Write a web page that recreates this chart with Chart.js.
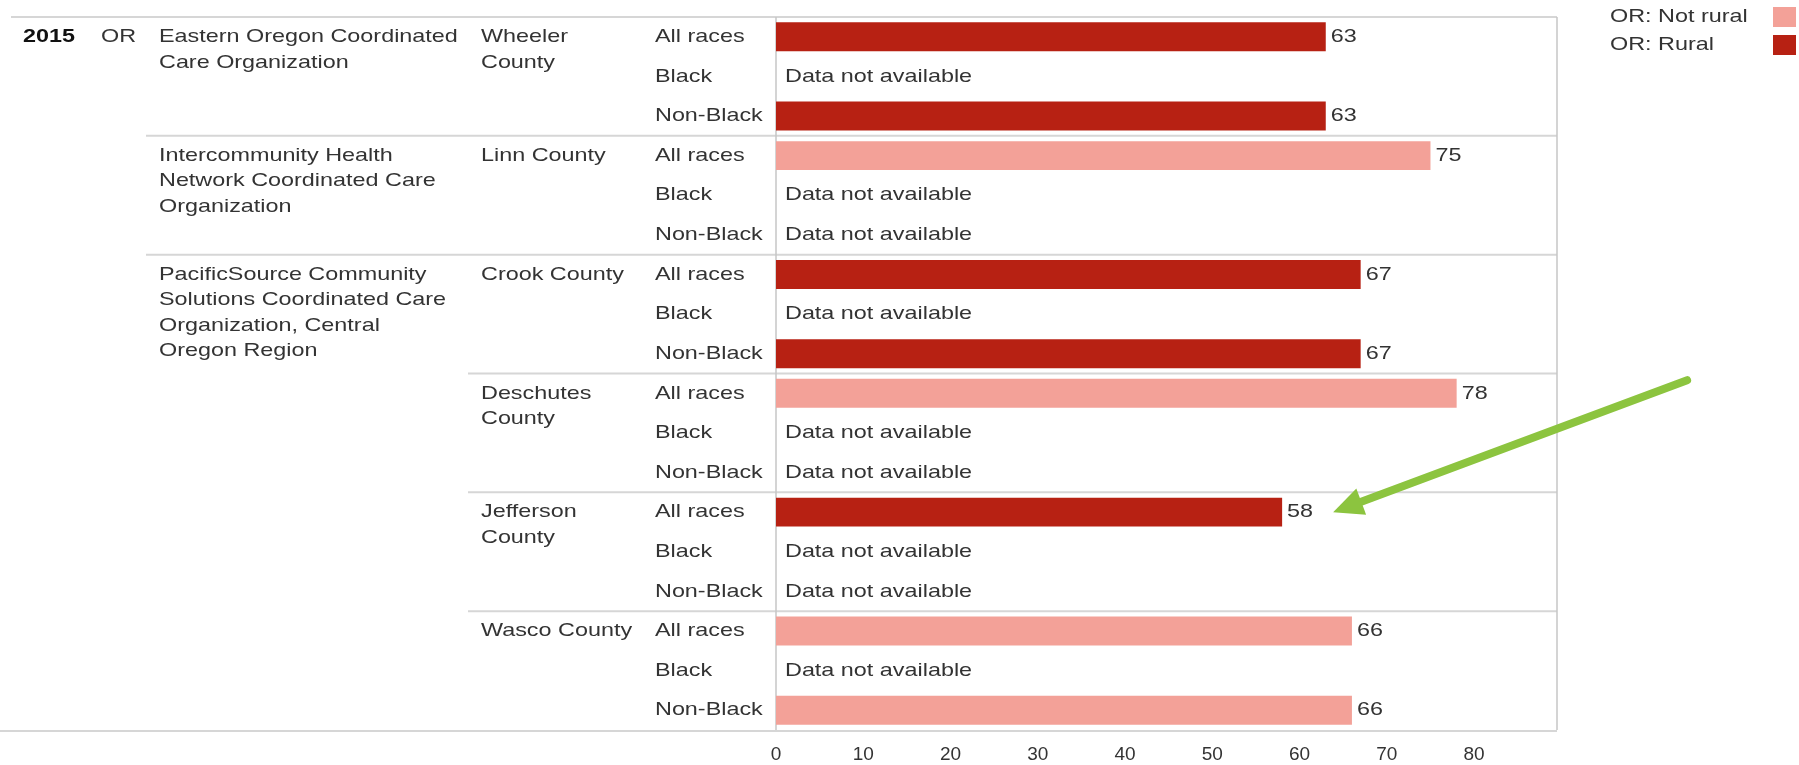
<!DOCTYPE html>
<html>
<head>
<meta charset="utf-8">
<title>Oregon CCO rates by county and race, 2015</title>
<script src="https://cdn.jsdelivr.net/npm/chart.js@4.4.1/dist/chart.umd.min.js"></script>
<style>
  html, body { margin: 0; padding: 0; background: #fff; }
  #wrap { width: 1799px; height: 765px; }
</style>
</head>
<body>
<div id="wrap"><canvas id="chart" width="1799" height="765"></canvas></div>
<script>
// ---- data ----
const year = '2015';
const state = 'OR';
const organizations = [
    ['Eastern Oregon Coordinated', 'Care Organization'],
    ['Intercommunity Health', 'Network Coordinated Care', 'Organization'],
    ['PacificSource Community', 'Solutions Coordinated Care', 'Organization, Central', 'Oregon Region']
];
const countiesPerOrg = [1, 1, 4];
const counties = [
    ['Wheeler', 'County'],
    ['Linn County'],
    ['Crook County'],
    ['Deschutes', 'County'],
    ['Jefferson', 'County'],
    ['Wasco County']
];
const races = ['All races', 'Black', 'Non-Black'];
const countyRural = [true, false, true, false, true, false];
// one row per county, one value per race (null = data not available)
const values = [
    [63, null, 63],
    [75, null, null],
    [67, null, 67],
    [78, null, null],
    [58, null, null],
    [66, null, 66]
];
const legendLabels = ['OR: Not rural', 'OR: Rural'];
const xTickValues = [0, 10, 20, 30, 40, 50, 60, 70, 80];
const highlight = { county: 4, race: 0 }; // the bar the green arrow points at

// ---- look ----
const FONT = '"Liberation Sans", Arial, sans-serif';
const TEXT_SIZE = 19;
const STRETCH = 1.23;
const TEXT_COLOR = '#333333';
const LINE_COLOR = '#d6d6d6';
const AXIS_COLOR = '#c6c6c6';
const RURAL = '#b72113';
const NOT_RURAL = '#f3a198';
const ARROW = '#8cc43f';

const rowLabels = [];
const notRuralData = [];
const ruralData = [];
counties.forEach((county, c) => {
    races.forEach((race, r) => {
        rowLabels.push(county.join(' ') + ' | ' + race);
        const v = values[c][r];
        ruralData.push(countyRural[c] ? v : null);
        notRuralData.push(countyRural[c] ? null : v);
    });
});

function drawText(ctx, text, x, y, opts = {}) {
    ctx.save();
    ctx.font = (opts.bold ? 'bold ' : '') + (opts.size || TEXT_SIZE) + 'px ' + FONT;
    ctx.fillStyle = opts.color || TEXT_COLOR;
    ctx.textBaseline = 'middle';
    ctx.textAlign = 'left';
    ctx.translate(x, y);
    ctx.scale(STRETCH, 1);
    ctx.fillText(text, 0, 0);
    ctx.restore();
}

function hLine(ctx, x1, x2, y, color, width) {
    ctx.save();
    ctx.strokeStyle = color;
    ctx.lineWidth = width;
    ctx.beginPath();
    ctx.moveTo(x1, y);
    ctx.lineTo(x2, y);
    ctx.stroke();
    ctx.restore();
}

function vLine(ctx, x, y1, y2, color, width) {
    ctx.save();
    ctx.strokeStyle = color;
    ctx.lineWidth = width;
    ctx.beginPath();
    ctx.moveTo(x, y1);
    ctx.lineTo(x, y2);
    ctx.stroke();
    ctx.restore();
}

const tablePlugin = {
    id: 'tableText',
    beforeDatasetsDraw(chart) {
        const { ctx, chartArea: area, scales: { x, y } } = chart;
        const edgeBefore = i => (y.getPixelForValue(i - 1) + y.getPixelForValue(i)) / 2;

        hLine(ctx, 11, area.right, area.top, LINE_COLOR, 2);

        // county / organization separators
        const orgStarts = new Set();
        let acc = 0;
        countiesPerOrg.forEach(n => { orgStarts.add(acc); acc += n; });
        for (let c = 1; c < counties.length; c++) {
            const yy = edgeBefore(c * races.length);
            hLine(ctx, orgStarts.has(c) ? 146 : 468, area.right, yy, LINE_COLOR, 2);
        }
        hLine(ctx, 0, area.right, area.bottom + 1, LINE_COLOR, 2);

        vLine(ctx, x.getPixelForValue(0), area.top, area.bottom, AXIS_COLOR, 1.5);
        vLine(ctx, area.right, area.top, area.bottom, AXIS_COLOR, 1.5);
    },
    afterDraw(chart) {
        const { ctx, scales: { x, y } } = chart;
        const lineGap = 25.5;

        drawText(ctx, year, 23, y.getPixelForValue(0), { bold: true, color: '#111' });
        drawText(ctx, state, 101, y.getPixelForValue(0));

        let countyIdx = 0;
        organizations.forEach((lines, o) => {
            const top = y.getPixelForValue(countyIdx * races.length);
            lines.forEach((line, k) => drawText(ctx, line, 159, top + k * lineGap));
            countyIdx += countiesPerOrg[o];
        });

        counties.forEach((lines, c) => {
            const top = y.getPixelForValue(c * races.length);
            lines.forEach((line, k) => drawText(ctx, line, 481, top + k * lineGap));
            races.forEach((race, r) => {
                const row = c * races.length + r;
                const cy = y.getPixelForValue(row);
                drawText(ctx, race, 655, cy);
                const v = values[c][r];
                if (v === null) {
                    drawText(ctx, 'Data not available', x.getPixelForValue(0) + 9, cy);
                } else {
                    drawText(ctx, String(v), x.getPixelForValue(v) + 5, cy);
                }
            });
        });

        // legend: text on the left, swatch on the right
        const swatches = [NOT_RURAL, RURAL];
        legendLabels.forEach((label, i) => {
            const cy = 17 + i * 28;
            drawText(ctx, label, 1610, cy);
            ctx.fillStyle = swatches[i];
            ctx.fillRect(1773, cy - 10, 23, 20);
        });

        // green call-out arrow
        const hv = values[highlight.county][highlight.race];
        const tipX = x.getPixelForValue(hv) + 51;
        const tipY = y.getPixelForValue(highlight.county * races.length + highlight.race);
        const tailX = tipX + 354;
        const tailY = tipY - 132;
        const ang = Math.atan2(tailY - tipY, tailX - tipX);
        const headLen = 30;
        const headHalf = 14;
        const baseX = tipX + Math.cos(ang) * headLen;
        const baseY = tipY + Math.sin(ang) * headLen;
        ctx.save();
        ctx.strokeStyle = ARROW;
        ctx.fillStyle = ARROW;
        ctx.lineWidth = 8;
        ctx.lineCap = 'round';
        ctx.beginPath();
        ctx.moveTo(tailX, tailY);
        ctx.lineTo(baseX, baseY);
        ctx.stroke();
        ctx.beginPath();
        ctx.moveTo(tipX, tipY);
        ctx.lineTo(baseX - Math.sin(ang) * headHalf, baseY + Math.cos(ang) * headHalf);
        ctx.lineTo(baseX + Math.sin(ang) * headHalf, baseY - Math.cos(ang) * headHalf);
        ctx.closePath();
        ctx.fill();
        ctx.restore();
    }
};

new Chart(document.getElementById('chart'), {
    type: 'bar',
    data: {
        labels: rowLabels,
        datasets: [
            { label: legendLabels[0], data: notRuralData, backgroundColor: NOT_RURAL, grouped: false },
            { label: legendLabels[1], data: ruralData, backgroundColor: RURAL, grouped: false }
        ]
    },
    options: {
        indexAxis: 'y',
        responsive: false,
        animation: false,
        barPercentage: 0.73,
        categoryPercentage: 1,
        layout: { padding: { left: 776, right: 242, top: 17, bottom: 0 } },
        plugins: {
            legend: { display: false },
            tooltip: { enabled: false }
        },
        scales: {
            x: {
                min: 0,
                max: 89.5,
                grid: { display: false, drawTicks: false },
                border: { display: false },
                afterFit: scale => { scale.height = 35; },
                afterBuildTicks: scale => { scale.ticks = xTickValues.map(v => ({ value: v })); },
                ticks: {
                    padding: 13,
                    color: TEXT_COLOR,
                    font: { family: FONT, size: TEXT_SIZE }
                }
            },
            y: { display: false }
        }
    },
    plugins: [tablePlugin]
});
</script>
</body>
</html>
